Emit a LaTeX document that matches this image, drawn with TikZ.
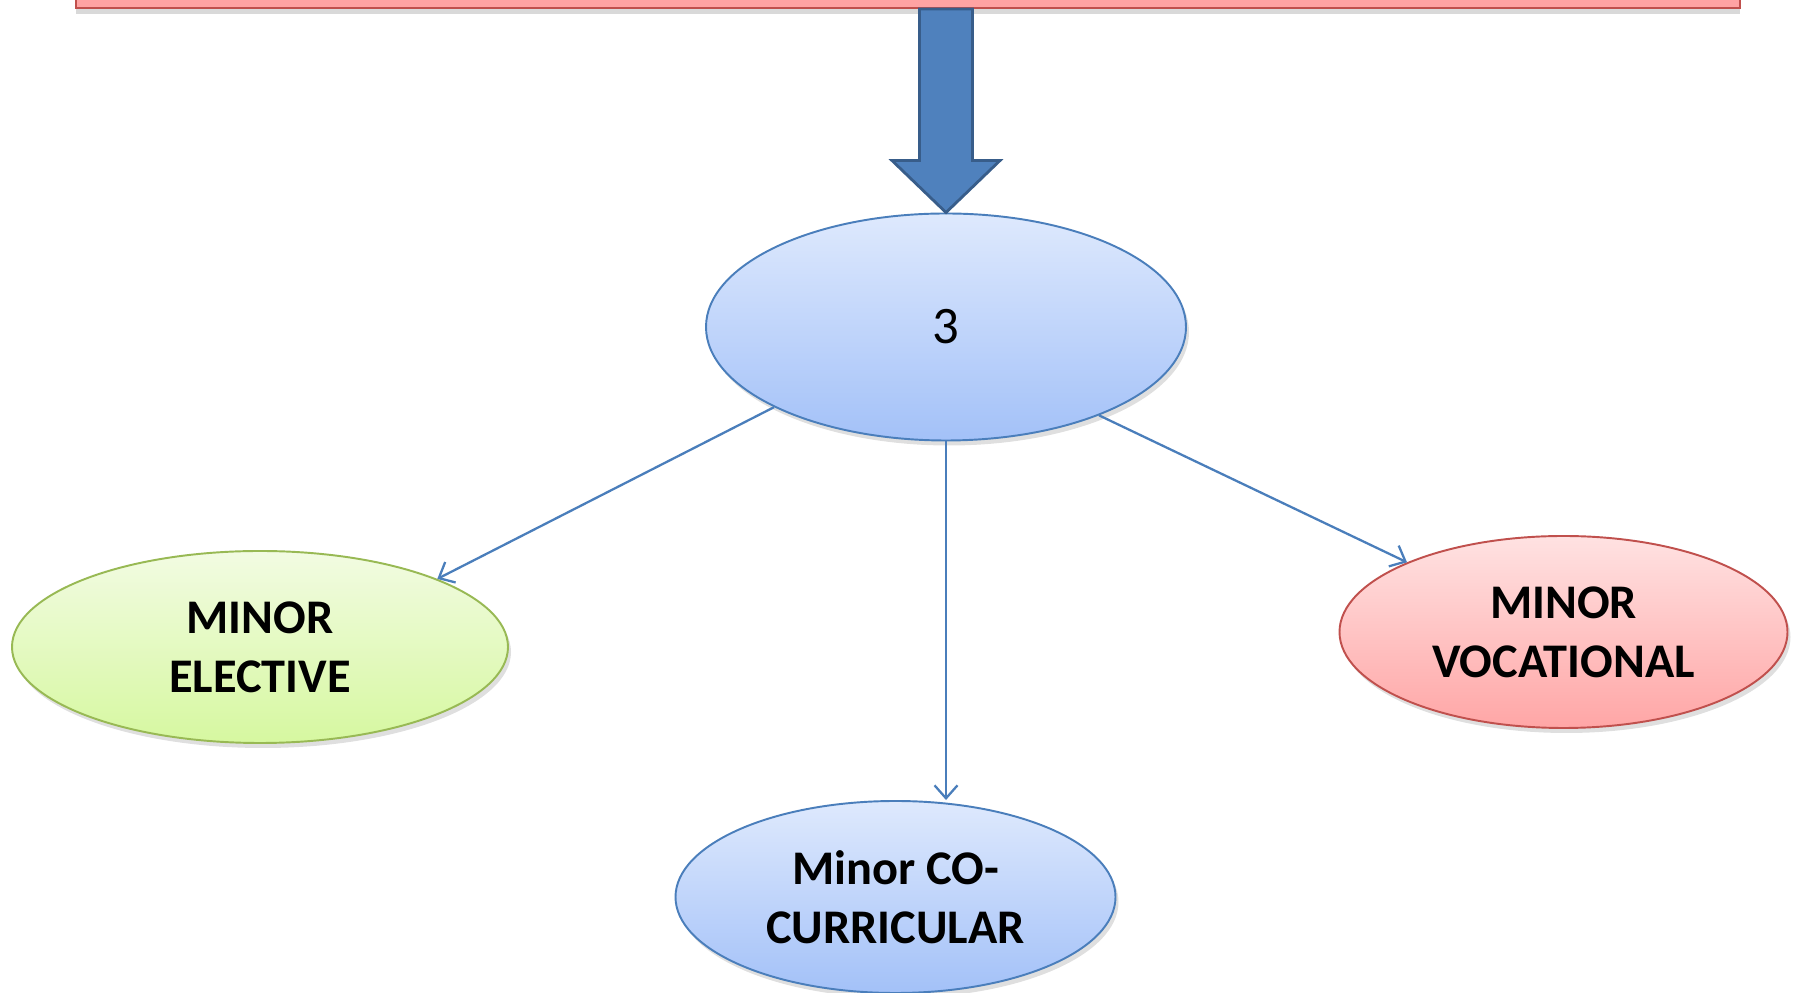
\documentclass[tikz,border=0pt]{standalone}
\usepackage{fontspec}
\setmainfont{Carlito}
\usetikzlibrary{shapes.geometric, arrows.meta, calc, shadows}

\definecolor{linkblue}{HTML}{4A7EBB}
\definecolor{arrowfill}{HTML}{4F81BD}
\definecolor{arrowline}{HTML}{385D8A}
\definecolor{redline}{HTML}{C0504D}
\definecolor{greenline}{HTML}{98B954}

\begin{document}
\begin{tikzpicture}[x=1cm, y=1cm,
    bubble/.style={ellipse, inner sep=0pt, line width=1.1pt, align=center,
      font=\fontsize{27.5}{33.5}\selectfont\bfseries,
      drop shadow={opacity=0.25, shadow xshift=0.06, shadow yshift=-0.1}},
    link/.style={-{Straight Barb[length=2.6mm, width=4.6mm]}, line width=1.3pt, color=linkblue}]
            \useasboundingbox (0,0) rectangle (35.96,19.86);
            \clip (0,0) rectangle (35.96,19.86);

            % Top box
            \node (top) [draw=redline, line width=1.2pt, fill={rgb,255:red,255;green,163;blue,163},
              minimum width=33.28cm, minimum height=2cm,
              drop shadow={opacity=0.3, shadow xshift=0, shadow yshift=-0.12}] at (18.16,20.70) {};

            % Ellipses
            \node (three) [bubble, draw=linkblue, top color={rgb,255:red,222;green,233;blue,253},
              bottom color={rgb,255:red,163;green,193;blue,248},
              minimum width=9.6cm, minimum height=4.54cm,
              font=\fontsize{30}{36}\selectfont] at (18.92,13.32) {3};
            \node (elective) [bubble, draw=greenline, top color={rgb,255:red,242;green,251;blue,226},
              bottom color={rgb,255:red,214;green,248;blue,160},
              minimum width=9.92cm, minimum height=3.84cm] at (5.2,6.92) {MINOR\\ELECTIVE};
            \node (vocational) [bubble, draw=redline, top color={rgb,255:red,255;green,226;blue,226},
              bottom color={rgb,255:red,255;green,166;blue,166},
              minimum width=8.96cm, minimum height=3.84cm] at (31.27,7.22) {MINOR\\VOCATIONAL};
            \node (cocurr) [bubble, draw=linkblue, top color={rgb,255:red,222;green,233;blue,253},
              bottom color={rgb,255:red,163;green,193;blue,248},
              minimum width=8.8cm, minimum height=3.84cm] at (17.91,1.92) {Minor CO-\\CURRICULAR};

            % Block arrow
            \draw [line width=1.6pt, draw=arrowline, fill=arrowfill, line join=miter]
              (three.north) -- ++(1.08,1.04) -- ++(-0.55,0)
              -- ($(three.north |- top.south)+(0.53,0)$)
              -- ($(three.north |- top.south)+(-0.53,0)$)
              -- ($(three.north)+(-0.53,1.04)$) -- ++(-0.55,0) -- cycle;

            % Links
            \draw [link] (three.205) -- (elective.21);
            \draw [link] (three.south) -- (three.south |- cocurr.north);
            \draw [link] (three.330) -- (vocational.156);
        \end{tikzpicture}
\end{document}
